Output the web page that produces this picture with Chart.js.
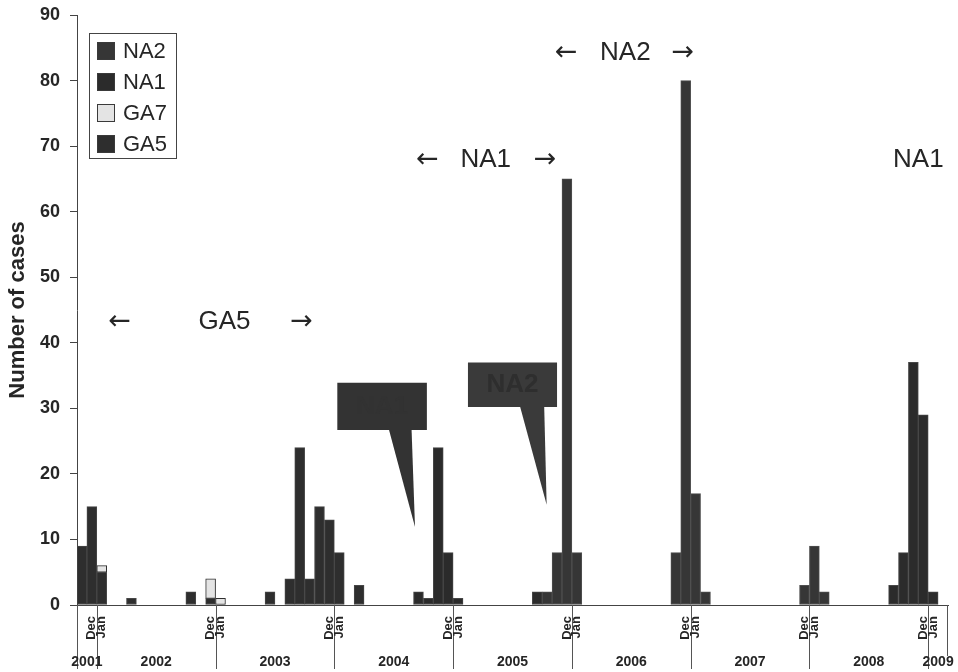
<!DOCTYPE html>
<html>
<head>
<meta charset="utf-8">
<script src="https://cdn.jsdelivr.net/npm/chart.js@4.4.1/dist/chart.umd.min.js"></script>
<style>
  html, body { margin: 0; padding: 0; background: #ffffff; }
  #wrap { width: 958px; height: 672px; }
</style>
</head>
<body>
<div id="wrap"><canvas id="c" width="958" height="672"></canvas></div>
<script>
// ---------------- DATA ----------------
const firstMonth = '2001-11';
const lastMonth  = '2009-02';
const yearLabels = ['2001','2002','2003','2004','2005','2006','2007','2008','2009'];
const boundaryLabels = ['Dec','Jan'];
const yTicks = [0,10,20,30,40,50,60,70,80,90];

const ga5Months = ['2001-11','2001-12','2002-01','2002-04','2002-10','2002-12','2003-06','2003-08','2003-09','2003-10','2003-11','2003-12','2004-01','2004-03'];
const ga5Cases  = [9,15,5,1,2,1,2,4,24,4,15,13,8,3];

const ga7Months = ['2002-01','2002-12','2003-01'];
const ga7Cases  = [1,3,1];

const na1Months = ['2004-09','2004-10','2004-11','2004-12','2005-01','2005-09','2008-09','2008-10','2008-11','2008-12','2009-01'];
const na1Cases  = [2,1,24,8,1,2,3,8,37,29,2];

const na2Months = ['2005-10','2005-11','2005-12','2006-01','2006-11','2006-12','2007-01','2007-02','2007-12','2008-01','2008-02'];
const na2Cases  = [2,8,65,8,8,80,17,2,3,9,2];

const seriesNames = ['GA5','GA7','NA1','NA2'];

// ---------------- BUILD ----------------
const months = [];
(function(){
  let [y, m] = firstMonth.split('-').map(Number);
  const [ey, em] = lastMonth.split('-').map(Number);
  while (y < ey || (y === ey && m <= em)) {
    months.push(y + '-' + String(m).padStart(2,'0'));
    m++; if (m > 12) { m = 1; y++; }
  }
})();

function series(ms, vals) {
  const out = months.map(() => null);
  ms.forEach((k, i) => { out[months.indexOf(k)] = vals[i]; });
  return out;
}

const FONT = "'Liberation Sans', Arial, Helvetica, sans-serif";
const ARROWFONT = "'DejaVu Sans', sans-serif";
const TXT = '#262626';
Chart.defaults.font.family = FONT;

const datasets = [
  { label: seriesNames[0], data: series(ga5Months, ga5Cases), backgroundColor: '#2e2e2e', borderColor: '#474747' },
  { label: seriesNames[1], data: series(ga7Months, ga7Cases), backgroundColor: '#e4e4e4', borderColor: '#2e2e2e' },
  { label: seriesNames[2], data: series(na1Months, na1Cases), backgroundColor: '#2b2b2b', borderColor: '#474747' },
  { label: seriesNames[3], data: series(na2Months, na2Cases), backgroundColor: '#363636', borderColor: '#4f4f4f' }
].map(d => Object.assign(d, { borderWidth: 1, borderSkipped: false, barPercentage: 1, categoryPercentage: 1 }));

// annotations in (month offset from left edge, value) units
const arrowTexts = [
  { t: '\u2190', m: 4.3,  v: 43.2, arrow: true }, { t: 'GA5', m: 14.9, v: 43.2 }, { t: '\u2192', m: 22.7, v: 43.2, arrow: true },
  { t: '\u2190', m: 35.4, v: 67.9, arrow: true }, { t: 'NA1', m: 41.3, v: 67.9 }, { t: '\u2192', m: 47.3, v: 67.9, arrow: true },
  { t: '\u2190', m: 49.4, v: 84.2, arrow: true }, { t: 'NA2', m: 55.4, v: 84.2 }, { t: '\u2192', m: 61.2, v: 84.2, arrow: true },
  { t: 'NA1', m: 85.0, v: 67.9 }
];
const callouts = [
  { text: 'NA1', m0: 26.3, m1: 35.35, vTop: 33.9, vBot: 26.7, b0: 31.5, b1: 33.8, tipM: 34.15, tipV: 11.9, fill: '#333333', tc: '#323232' },
  { text: 'NA2', m0: 39.5, m1: 48.5, vTop: 37.0, vBot: 30.2, b0: 44.75, b1: 47.2, tipM: 47.45, tipV: 15.3, fill: '#3a3a3a', tc: '#2e2e2e' }
];

const decor = {
  id: 'decor',
  afterDraw(chart) {
    const ctx = chart.ctx, ca = chart.chartArea;
    const ys = chart.scales.y;
    const slot = ca.width / months.length;
    const X = m => ca.left + m * slot;
    const Y = v => ys.getPixelForValue(v);
    ctx.save();

    // category axis dividers
    ctx.strokeStyle = '#555';
    ctx.lineWidth = 1;
    ctx.beginPath();
    ctx.moveTo(Math.round(ca.left) + 0.5, ca.bottom); ctx.lineTo(Math.round(ca.left) + 0.5, 669);
    ctx.moveTo(Math.round(ca.right) - 0.5, ca.bottom); ctx.lineTo(Math.round(ca.right) - 0.5, 656);
    const bounds = [];
    months.forEach((k, i) => { if (k.endsWith('-01')) bounds.push(i); });
    bounds.forEach(i => {
      const x = Math.round(X(i)) + 0.5;
      ctx.moveTo(x, ca.bottom); ctx.lineTo(x, 669);
    });
    ctx.stroke();

    // Dec / Jan rotated labels
    ctx.fillStyle = TXT;
    ctx.font = 'bold 13px ' + FONT;
    ctx.textAlign = 'right';
    ctx.textBaseline = 'middle';
    bounds.forEach(i => {
      [[i - 1, boundaryLabels[0]], [i, boundaryLabels[1]]].forEach(([idx, lab]) => {
        ctx.save();
        ctx.translate(X(idx + 0.5), ca.bottom + 11);
        ctx.rotate(-Math.PI / 2);
        ctx.fillText(lab, 0, 0);
        ctx.restore();
      });
    });

    // year labels centred between dividers
    const edges = [0].concat(bounds).concat([months.length]);
    ctx.font = 'bold 14px ' + FONT;
    ctx.textAlign = 'center';
    yearLabels.forEach((lab, j) => {
      ctx.fillText(lab, (X(edges[j]) + X(edges[j + 1])) / 2, 662);
    });

    // arrows and period labels
    ctx.fillStyle = TXT;
    arrowTexts.forEach(a => {
      ctx.font = a.arrow ? '27px ' + ARROWFONT : '26px ' + FONT;
      ctx.fillText(a.t, X(a.m), Y(a.v));
    });

    // callouts
    callouts.forEach(c => {
      ctx.fillStyle = c.fill;
      ctx.beginPath();
      ctx.rect(X(c.m0), Y(c.vTop), X(c.m1) - X(c.m0), Y(c.vBot) - Y(c.vTop));
      ctx.fill();
      ctx.beginPath();
      ctx.moveTo(X(c.b0), Y(c.vBot) - 1);
      ctx.lineTo(X(c.b1), Y(c.vBot) - 1);
      ctx.lineTo(X(c.tipM), Y(c.tipV));
      ctx.closePath();
      ctx.fill();
      ctx.fillStyle = c.tc;
      ctx.font = 'bold 26px ' + FONT;
      ctx.fillText(c.text, (X(c.m0) + X(c.m1)) / 2, (Y(c.vTop) + Y(c.vBot)) / 2);
    });

    // legend box (top-left inside plot)
    const lx = 89, ly = 33, lw = 87, lh = 125;
    ctx.fillStyle = '#ffffff';
    ctx.fillRect(lx, ly, lw, lh);
    ctx.strokeStyle = '#444';
    ctx.strokeRect(lx + 0.5, ly + 0.5, lw, lh);
    const order = chart.data.datasets.slice().reverse();
    ctx.font = '22px ' + FONT;
    ctx.textAlign = 'left';
    order.forEach((d, k) => {
      const cy = 51 + k * 31;
      ctx.fillStyle = d.backgroundColor;
      ctx.fillRect(97, cy - 9, 18, 18);
      ctx.strokeStyle = '#3a3a3a';
      ctx.strokeRect(97.5, cy - 8.5, 17, 17);
      ctx.fillStyle = TXT;
      ctx.fillText(d.label, 123, cy + 1);
    });
    ctx.restore();
  }
};

new Chart(document.getElementById('c'), {
  type: 'bar',
  data: { labels: months, datasets },
  options: {
    responsive: false,
    animation: false,
    events: [],
    layout: { padding: { left: 0, right: 10, top: 15, bottom: 0 } },
    plugins: { legend: { display: false }, tooltip: { enabled: false } },
    scales: {
      x: {
        stacked: true, offset: true,
        grid: { display: false, drawTicks: false },
        ticks: { display: false },
        border: { display: true, color: '#444', width: 1 },
        afterFit: s => { s.height = 67; s.paddingLeft = 0; s.paddingRight = 0; }
      },
      y: {
        stacked: true, min: 0, max: 90,
        afterBuildTicks: s => { s.ticks = yTicks.map(v => ({ value: v })); },
        ticks: { color: TXT, font: { size: 18, weight: 'bold' }, padding: 10 },
        grid: { drawOnChartArea: false, drawTicks: true, tickLength: 7, color: '#444' },
        border: { display: true, color: '#444', width: 1 },
        title: { display: true, text: 'Number of cases', color: TXT, font: { size: 22, weight: 'bold' }, padding: { top: 5, bottom: 4 } },
        afterFit: s => { s.width = 77; s.paddingTop = 0; s.paddingBottom = 0; }
      }
    }
  },
  plugins: [decor]
});
</script>
</body>
</html>
